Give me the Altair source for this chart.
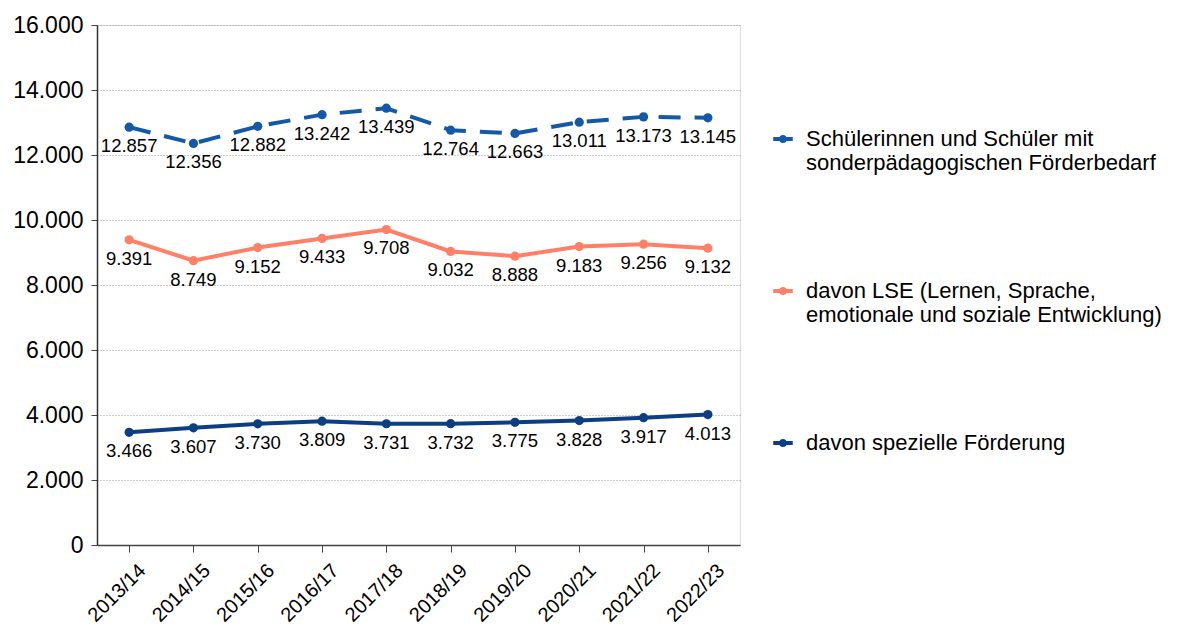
import altair as alt
import pandas as pd

years = ["2013/14", "2014/15", "2015/16", "2016/17", "2017/18",
         "2018/19", "2019/20", "2020/21", "2021/22", "2022/23"]
series_names = [
    "Schülerinnen und Schüler mit sonderpädagogischen Förderbedarf",
    "davon LSE (Lernen, Sprache, emotionale und soziale Entwicklung)",
    "davon spezielle Förderung",
]
legend_lines = [
    ["Schülerinnen und Schüler mit", "sonderpädagogischen Förderbedarf"],
    ["davon LSE (Lernen, Sprache,", "emotionale und soziale Entwicklung)"],
    ["davon spezielle Förderung"],
]
total = [12857, 12356, 12882, 13242, 13439, 12764, 12663, 13011, 13173, 13145]
lse = [9391, 8749, 9152, 9433, 9708, 9032, 8888, 9183, 9256, 9132]
spez = [3466, 3607, 3730, 3809, 3731, 3732, 3775, 3828, 3917, 4013]
colors = ["#1458A8", "#FF8066", "#0C3F82"]
y_ticks = [0, 2000, 4000, 6000, 8000, 10000, 12000, 14000, 16000]

rows = []
for name, vals in zip(series_names, [total, lse, spez]):
    for yr, v in zip(years, vals):
        rows.append({"Jahr": yr, "Serie": name, "Wert": v, "dashed": name == series_names[0]})
df = pd.DataFrame(rows)

label_expr = ""
for name, lines in zip(series_names, legend_lines):
    arr = "[" + ",".join("'" + l + "'" for l in lines) + "]"
    label_expr += f"datum.label == '{name}' ? {arr} : "
label_expr += "datum.label"

FONT = "Liberation Sans"
de_fmt = "replace(format(datum.value, ','), ',', '.')"

x = alt.X("Jahr:N", sort=years, title=None,
          scale=alt.Scale(paddingInner=0, paddingOuter=0.06),
          axis=alt.Axis(labelAngle=-45, labelFontSize=20, labelColor="black",
                        labelFont=FONT, domainColor="#444", tickColor="#444",
                        tickSize=7, labelPadding=8, labelOffset=6,
                        grid=False, domainWidth=1.5))
y = alt.Y("Wert:Q", title=None,
          scale=alt.Scale(domain=[0, 16000], nice=False),
          axis=alt.Axis(values=y_ticks, labelExpr=de_fmt, labelFontSize=23,
                        labelColor="black", labelFont=FONT, domainColor="#333",
                        tickColor="#444", tickSize=6, labelPadding=8,
                        grid=True, gridColor="#9a9a9a", gridDash=[1, 2],
                        gridWidth=1, domainWidth=1.5))
color = alt.Color("Serie:N", sort=series_names,
                  scale=alt.Scale(domain=series_names, range=colors),
                  legend=alt.Legend(
                      title=None, orient="none", legendX=675, legendY=103,
                      labelExpr=label_expr, labelFontSize=22, labelFont=FONT,
                      labelColor="black", labelLimit=500, labelOffset=12,
                      rowPadding=106, padding=0,
                      symbolType="M-1,-0.2 L1,-0.2 L1,0.2 L-1,0.2 Z M-0.42,0 A0.42,0.42 0 1,1 0.42,0 A0.42,0.42 0 1,1 -0.42,0 Z",
                      symbolSize=380, symbolStrokeWidth=0))

base = alt.Chart(df)

line_solid = base.transform_filter("!datum.dashed").mark_line(strokeWidth=4).encode(
    x=x, y=y, color=color)
line_dash = base.transform_filter("datum.dashed").mark_line(
    strokeWidth=4, strokeDash=[22, 14]).encode(x=x, y=y, color=color)
points = base.mark_point(filled=True, size=85, opacity=1).encode(x=x, y=y, color=color)
labels = base.mark_text(dy=19, fontSize=18.5, font=FONT, color="black").encode(
    x=x, y=y,
    text=alt.Text("label:N")).transform_calculate(
    label="replace(format(datum.Wert, ','), ',', '.')")

chart = alt.layer(line_solid, line_dash, points, labels).properties(
    width=643, height=520,
    autosize=alt.AutoSizeParams(type="none"),
    padding={"left": 89, "top": 17, "right": 440, "bottom": 85},
).configure_view(stroke=None).configure(background="white")

chart.save("out.html", embed_options={"renderer": "svg", "actions": False})
